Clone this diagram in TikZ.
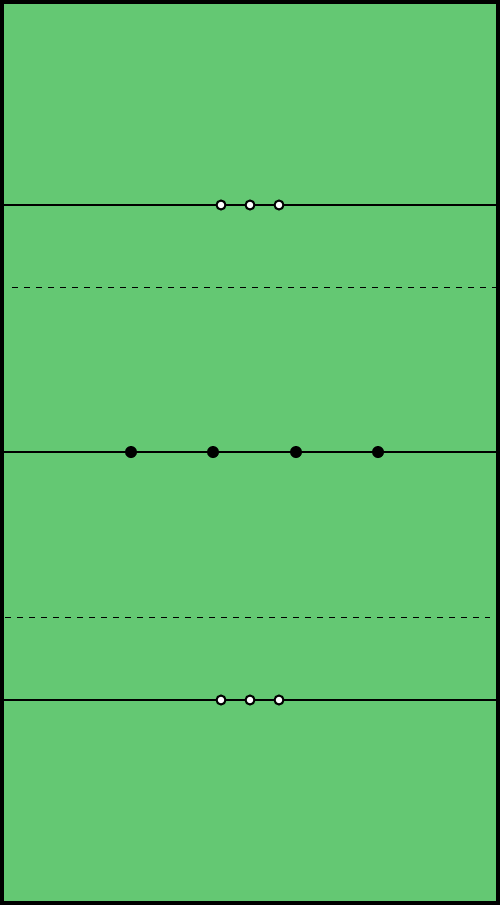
\documentclass[tikz,border=0pt]{standalone}
\definecolor{court}{RGB}{100,200,115}
\tikzset{
  wdot/.style={circle,draw=black,fill=white,line width=2pt,minimum size=9pt,inner sep=0pt},
  bdot/.style={circle,fill=black,minimum size=12pt,inner sep=0pt},
  dline/.style={line width=1pt,dash pattern=on 6pt off 6pt}
}
\begin{document}
\begin{tikzpicture}[x=1pt,y=-1pt]
\useasboundingbox (0,0) rectangle (500,905);
\draw[fill=court,line width=4pt] (2,2) rectangle (498,903);
\coordinate (l1) at (4,205); \coordinate (r1) at (496,205);
\coordinate (l2) at (4,452); \coordinate (r2) at (496,452);
\coordinate (l3) at (4,700); \coordinate (r3) at (496,700);
\coordinate (d1a) at (12,287); \coordinate (d1b) at (496,287);
\coordinate (d2a) at (5,617); \coordinate (d2b) at (490,617);
\draw[line width=2pt] (l1) -- (r1);
\draw[line width=1.2pt] (l2) -- (r2);
\draw[line width=2pt] (l3) -- (r3);
\draw[dline] (d1a) -- (d1b);
\draw[dline] (d2a) -- (d2b);
\node[wdot] (t1) at (221,205) {};
\node[wdot] (t2) at (250,205) {};
\node[wdot] (t3) at (279,205) {};
\node[bdot] (m1) at (131,452) {};
\node[bdot] (m2) at (213,452) {};
\node[bdot] (m3) at (296,452) {};
\node[bdot] (m4) at (378,452) {};
\node[wdot] (b1) at (221,700) {};
\node[wdot] (b2) at (250,700) {};
\node[wdot] (b3) at (279,700) {};
\end{tikzpicture}
\end{document}
